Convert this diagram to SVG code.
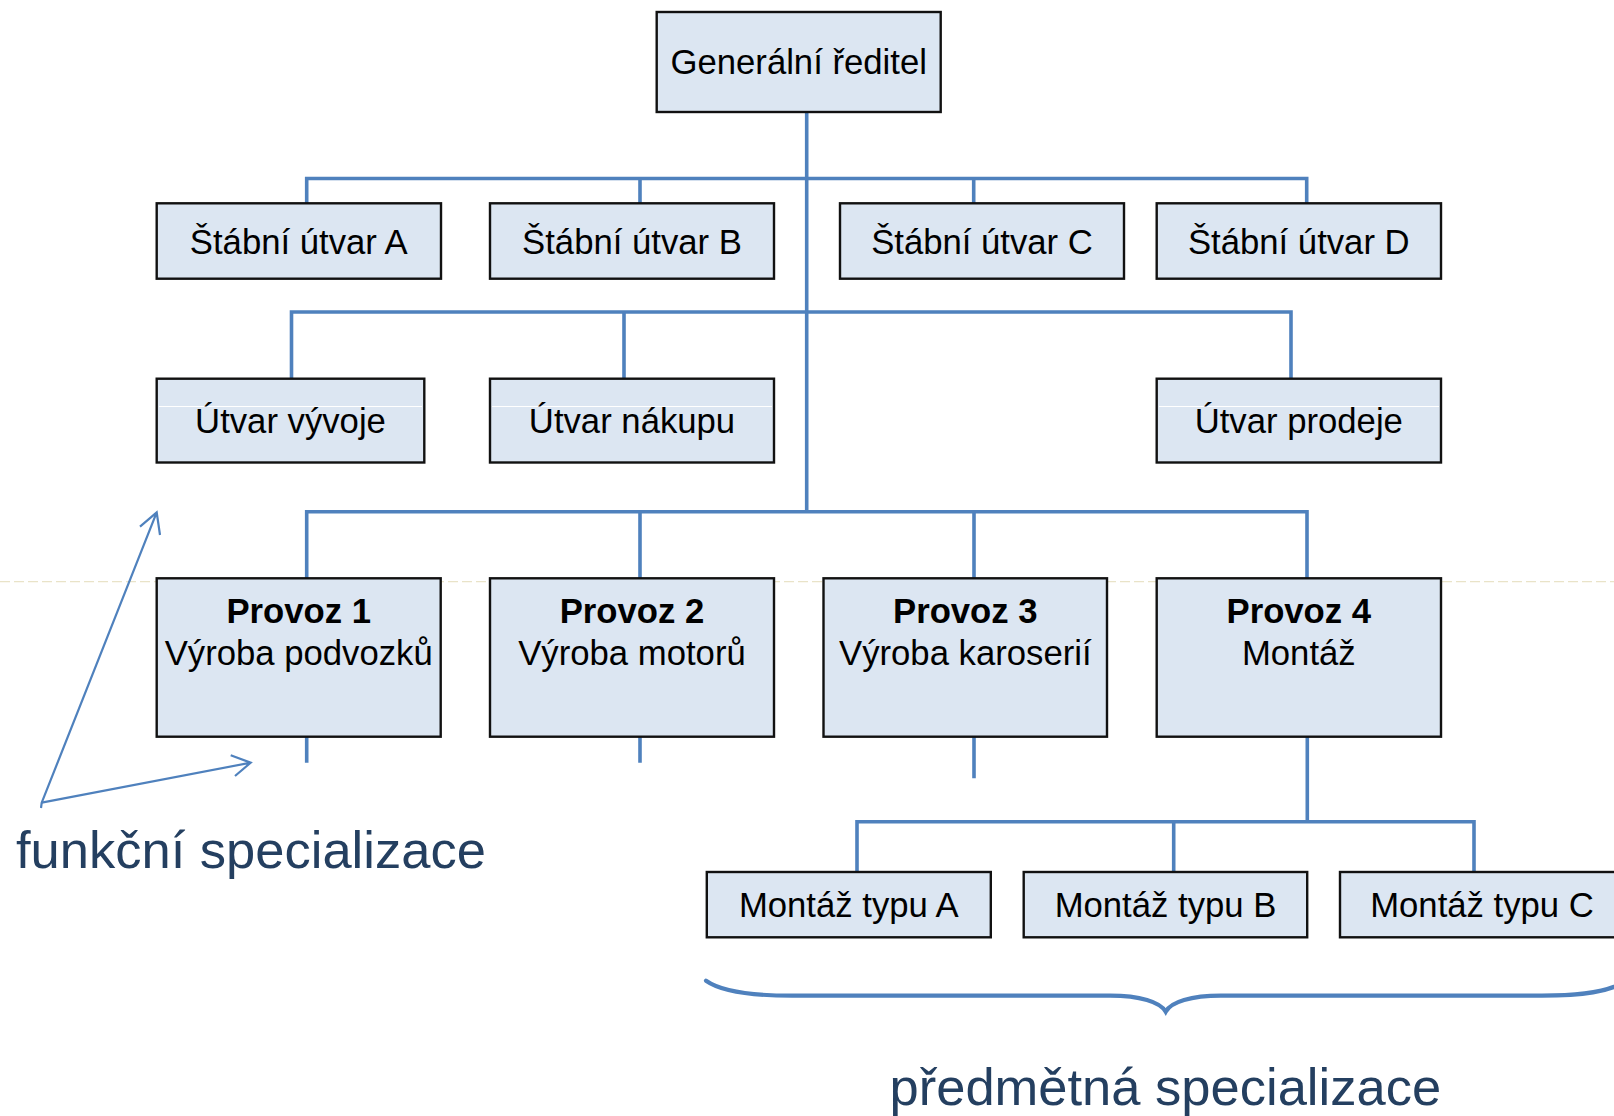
<svg xmlns="http://www.w3.org/2000/svg" width="1614" height="1116" viewBox="0 0 1614 1116">
  <defs>
    <style>
      .box { fill: #dce6f2; stroke: #111; stroke-width: 2.4; }
      .lbl { font-family: "Liberation Sans", Arial, sans-serif; font-size: 34.7px; fill: #000; text-anchor: middle; }
      .b { font-weight: bold; }
      .conn { stroke: #4f81bd; stroke-width: 3.6; fill: none; stroke-linecap: butt; }
      .note { stroke: #4f81bd; stroke-width: 2.2; fill: none; }
      .brace { stroke: #4f81bd; stroke-width: 4.2; fill: none; stroke-linecap: round; }
      .cap { font-family: "Liberation Sans", Arial, sans-serif; font-size: 52.5px; fill: #243f60; }
      .sheen { stroke: #ffffff; stroke-width: 1.2; }
    </style>
  </defs>
  <rect width="1614" height="1116" fill="#ffffff"/>

  <!-- org chart connectors -->
  <g id="connectors">
    <!-- trunk from the director -->
    <path class="conn" d="M806.7,112 V511.7"/>
    <!-- staff units bus -->
    <path class="conn" d="M306.7,203.3 V178.5 H1306.7 V203.3 M640,178.5 V203.3 M973.7,178.5 V203.3"/>
    <!-- line departments bus -->
    <path class="conn" d="M291.5,378.7 V312 H1291 V378.7 M624,312 V378.7"/>
    <!-- plants bus -->
    <path class="conn" d="M306.7,578.3 V511.7 H1307 V578.3 M640,511.7 V578.3 M974,511.7 V578.3"/>
    <!-- stubs below plants -->
    <path class="conn" d="M306.7,736.7 V762.7 M640,736.7 V762.7 M974,736.7 V778.3"/>
    <!-- assembly types bus -->
    <path class="conn" d="M1307.3,736.7 V821.7 M857,872 V821.7 H1474 V872 M1173.7,821.7 V872"/>
  </g>

  <!-- faint guide across the page -->
  <line x1="0" y1="581.7" x2="1614" y2="581.7" stroke="#e9e3c8" stroke-width="1.2" stroke-dasharray="10 4"/>

  <g id="n-reditel">
    <rect class="box" x="656.7" y="12" width="284" height="100"/>
    <text class="lbl" x="798.7" y="74.3">Generální ředitel</text>
  </g>

  <g id="n-stab-a">
    <rect class="box" x="156.7" y="203.3" width="284.3" height="75.4"/>
    <text class="lbl" x="298.8" y="254">Štábní útvar A</text>
  </g>
  <g id="n-stab-b">
    <rect class="box" x="490" y="203.3" width="284" height="75.4"/>
    <text class="lbl" x="632" y="254">Štábní útvar B</text>
  </g>
  <g id="n-stab-c">
    <rect class="box" x="840" y="203.3" width="284" height="75.4"/>
    <text class="lbl" x="982" y="254">Štábní útvar C</text>
  </g>
  <g id="n-stab-d">
    <rect class="box" x="1156.7" y="203.3" width="284.3" height="75.4"/>
    <text class="lbl" x="1298.8" y="254">Štábní útvar D</text>
  </g>

  <g id="n-vyvoj">
    <rect class="box" x="156.7" y="378.7" width="267.6" height="83.8"/>
    <line class="sheen" x1="159" y1="406.5" x2="422" y2="406.5"/>
    <text class="lbl" x="290.5" y="433.3">Útvar vývoje</text>
  </g>
  <g id="n-nakup">
    <rect class="box" x="490" y="378.7" width="284" height="83.8"/>
    <line class="sheen" x1="492" y1="406.5" x2="772" y2="406.5"/>
    <text class="lbl" x="632" y="433.3">Útvar nákupu</text>
  </g>
  <g id="n-prodej">
    <rect class="box" x="1156.7" y="378.7" width="284.3" height="83.8"/>
    <line class="sheen" x1="1159" y1="406.5" x2="1439" y2="406.5"/>
    <text class="lbl" x="1298.8" y="433.3">Útvar prodeje</text>
  </g>

  <g id="n-provoz-1">
    <rect class="box" x="156.7" y="578.3" width="284" height="158.4"/>
    <text class="lbl b" x="298.7" y="622.7">Provoz 1</text>
    <text class="lbl" x="298.7" y="665">Výroba podvozků</text>
  </g>
  <g id="n-provoz-2">
    <rect class="box" x="490" y="578.3" width="284" height="158.4"/>
    <text class="lbl b" x="632" y="622.7">Provoz 2</text>
    <text class="lbl" x="632" y="665">Výroba motorů</text>
  </g>
  <g id="n-provoz-3">
    <rect class="box" x="823.5" y="578.3" width="283.5" height="158.4"/>
    <text class="lbl b" x="965.3" y="622.7">Provoz 3</text>
    <text class="lbl" x="965.3" y="665">Výroba karoserií</text>
  </g>
  <g id="n-provoz-4">
    <rect class="box" x="1156.7" y="578.3" width="284.3" height="158.4"/>
    <text class="lbl b" x="1298.8" y="622.7">Provoz 4</text>
    <text class="lbl" x="1298.8" y="665">Montáž</text>
  </g>

  <g id="n-montaz-a">
    <rect class="box" x="706.8" y="872" width="284" height="65.3"/>
    <text class="lbl" x="848.8" y="917.3">Montáž typu A</text>
  </g>
  <g id="n-montaz-b">
    <rect class="box" x="1023.7" y="872" width="283.5" height="65.3"/>
    <text class="lbl" x="1165.5" y="917.3">Montáž typu B</text>
  </g>
  <g id="n-montaz-c">
    <rect class="box" x="1340" y="872" width="284" height="65.3"/>
    <text class="lbl" x="1482" y="917.3">Montáž typu C</text>
  </g>

  <!-- functional specialisation: two open arrows from a common corner -->
  <g id="functional">
    <path class="note" d="M41,808 L41.7,802.7 L156.7,512.3 M140,526.7 L156.7,512.3 L160,535"/>
    <path class="note" d="M41.7,802.7 L250.7,762.7 M230.7,755.3 L250.7,762.7 L235,776"/>
    <text class="cap" x="16" y="868">funkční specializace</text>
  </g>

  <!-- subject specialisation: brace under the assembly types -->
  <g id="subject">
    <path class="brace" d="M706,980.7 C722,992 752,995.7 792,995.7 L1110,995.7 C1140,995.7 1160,1002 1165.7,1011.7 C1171,1002 1191,995.7 1221,995.7 L1542,995.7 C1582,995.7 1610,992 1626,980.7"/>
    <text class="cap" x="1165.3" y="1105" text-anchor="middle">předmětná specializace</text>
  </g>
</svg>
